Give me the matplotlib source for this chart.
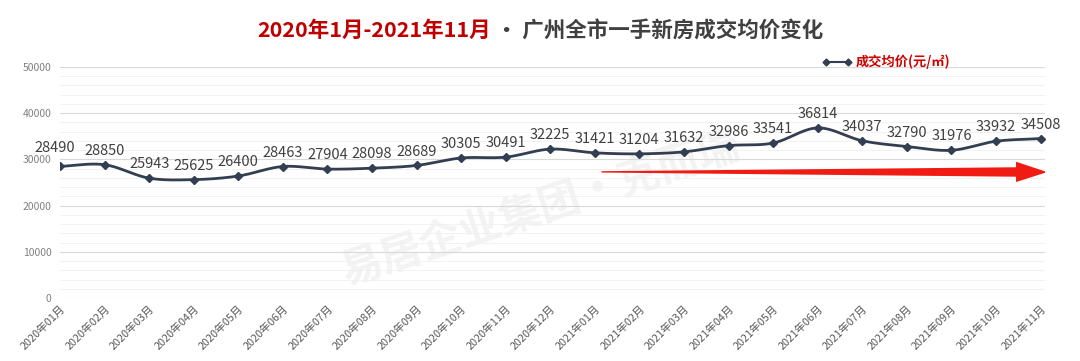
import numpy as np
import matplotlib
matplotlib.use("Agg")
import matplotlib.pyplot as plt
from matplotlib.patches import Polygon
from matplotlib.lines import Line2D

plt.rcParams['font.family'] = ['Noto Sans CJK SC', 'DejaVu Sans']

months = ['2020年01月', '2020年02月', '2020年03月', '2020年04月', '2020年05月', '2020年06月',
          '2020年07月', '2020年08月', '2020年09月', '2020年10月', '2020年11月', '2020年12月',
          '2021年01月', '2021年02月', '2021年03月', '2021年04月', '2021年05月', '2021年06月',
          '2021年07月', '2021年08月', '2021年09月', '2021年10月', '2021年11月']
prices = [28490, 28850, 25943, 25625, 26400, 28463, 27904, 28098, 28689, 30305, 30491, 32225,
          31421, 31204, 31632, 32986, 33541, 36814, 34037, 32790, 31976, 33932, 34508]

line_color = '#333f50'
red = '#c00000'

fig = plt.figure(figsize=(10.8, 3.61), dpi=100)
ax = fig.add_axes([60 / 1080, 63 / 361, 985 / 1080, 231 / 361])
ax.patch.set_alpha(0)

x = np.arange(len(prices))
y = np.array(prices, dtype=float)


# smoothed curve like excel's "smoothed line" (catmull-rom through the points)
def smooth(xs, ys, n=20):
    px = np.concatenate([[2 * xs[0] - xs[1]], xs, [2 * xs[-1] - xs[-2]]])
    py = np.concatenate([[2 * ys[0] - ys[1]], ys, [2 * ys[-1] - ys[-2]]])
    ox, oy = [], []
    t = np.linspace(0, 1, n, endpoint=False)
    for i in range(1, len(px) - 2):
        for arr, out in ((px, ox), (py, oy)):
            p0, p1, p2, p3 = arr[i - 1], arr[i], arr[i + 1], arr[i + 2]
            out.extend(0.5 * ((2 * p1) + (-p0 + p2) * t + (2 * p0 - 5 * p1 + 4 * p2 - p3) * t ** 2
                              + (-p0 + 3 * p1 - 3 * p2 + p3) * t ** 3))
    ox.append(xs[-1]); oy.append(ys[-1])
    return np.array(ox), np.array(oy)


sx, sy = smooth(x, y)
ax.plot(sx, sy, color=line_color, lw=2, zorder=3)
ax.plot(x, y, ls='none', marker='D', ms=4, color=line_color, zorder=4)

for xi, yi in zip(x, y):
    off = (-4, 8) if xi == 0 else (0, 5)
    ax.annotate(f'{int(yi)}', (xi, yi), xytext=off, textcoords='offset points',
                ha='center', va='bottom', fontsize=10.5, color='#404040', zorder=5)

ax.set_xlim(0, len(prices) - 0.9)
ax.set_ylim(0, 50000)
ax.set_yticks(np.arange(0, 50001, 10000))
ax.set_yticks(np.arange(0, 50001, 2000), minor=True)
ax.grid(axis='y', which='major', color='#d9d9d9', lw=0.8)
ax.grid(axis='y', which='minor', color='#f0f0f0', lw=0.6)
ax.set_axisbelow(True)
for s in ax.spines.values():
    s.set_visible(False)
ax.set_xticks(x)
ax.set_xticklabels(months, rotation=45, ha='right', rotation_mode='anchor', fontsize=7.8, color='#595959')
ax.tick_params(axis='x', length=0, pad=4)
ax.tick_params(axis='y', which='both', length=0, labelsize=7.5, labelcolor='#808080', pad=6)

# red trend arrow
arrow = Polygon([(12.15, 27150), (21.45, 26250), (21.45, 25100), (22.15, 27250),
                 (21.45, 29500), (21.45, 28300), (12.15, 27450)],
                closed=True, facecolor='#f01c14', edgecolor='none', zorder=2)
ax.add_patch(arrow)

# faint watermark
fig.text(0.5, 0.42, '易居企业集团·克而瑞', fontsize=30, color='#f3f3f3', rotation=18,
         ha='center', va='center', fontweight='bold', zorder=-1)

# legend
h = Line2D([], [], color=line_color, lw=1.5, marker='D', ms=3.5, markevery=[0, 1])
leg = ax.legend([h], ['成交均价(元/㎡)'], loc='upper left', bbox_to_anchor=(0.762, 1.105), frameon=False,
                handlelength=2.2, handletextpad=0.3, fontsize=9.5, numpoints=2)
for t in leg.get_texts():
    t.set_color('#d00000')
    t.set_fontweight('bold')

# title in two colours, centred as a whole
title_a = '2020年1月-2021年11月'
title_b = ' · 广州全市一手新房成交均价变化'
ta = fig.text(0, 0.915, title_a, fontsize=15.5, fontweight='bold', color=red, ha='left', va='center')
tb = fig.text(0, 0.915, title_b, fontsize=15.5, fontweight='bold', color='#404040', ha='left', va='center')
fig.canvas.draw()
wa = ta.get_window_extent().width
wb = tb.get_window_extent().width
start = (1080 - wa - wb) / 2 / 1080
ta.set_x(start)
tb.set_x(start + wa / 1080)

fig.savefig('out.png', dpi=100)
